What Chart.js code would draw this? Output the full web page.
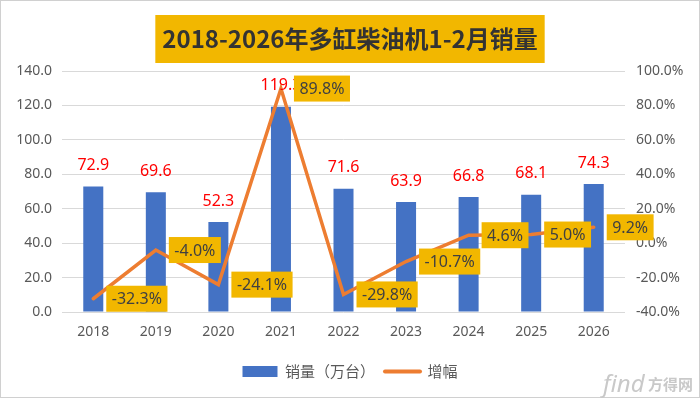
<!DOCTYPE html>
<html>
<head>
<meta charset="utf-8">
<script src="https://cdn.jsdelivr.net/npm/chart.js@4"></script>
<style>
  html, body { margin: 0; padding: 0; background: #ffffff; }
  #wrap { width: 700px; height: 398px; position: relative; }
</style>
</head>
<body>
<div id="wrap"><canvas id="graficoVendas"></canvas></div>
<script>
// dados
var anos = ['2018', '2019', '2020', '2021', '2022', '2023', '2024', '2025', '2026'];
var vendas = [72.9, 69.6, 52.3, 119.3, 71.6, 63.9, 66.8, 68.1, 74.3];
var crescimento = [-32.3, -4.0, -24.1, 89.8, -29.8, -10.7, 4.6, 5.0, 9.2];
var ticksEsquerda = [0, 20, 40, 60, 80, 100, 120, 140];
var ticksDireita = [-40, -20, 0, 20, 40, 60, 80, 100];

var azul = '#4472C4';
var laranja = '#ED7D31';
var dourado = '#F2B700';
var cinzaTexto = '#595959';
var fonteNum = '"Noto Sans", "Noto Sans CJK SC", sans-serif';
var fonteCjk = '"Noto Sans CJK SC", "Noto Sans", sans-serif';

var fundoTitulo = {
    id: 'fundoTitulo',
    beforeDraw: function(chart) {
        var ctx = chart.ctx;
        ctx.save();
        ctx.fillStyle = '#ffffff';
        ctx.fillRect(0, 0, chart.width, chart.height);
        ctx.font = 'bold 24px ' + fonteCjk;
        var w = ctx.measureText(chart.options.plugins.title.text).width + 14;
        ctx.fillStyle = dourado;
        ctx.fillRect(chart.width / 2 - w / 2, 15, w, 48);
        ctx.restore();
    },
    afterDraw: function(chart) {
        var ctx = chart.ctx;
        ctx.save();
        ctx.strokeStyle = '#D0D0D0';
        ctx.lineWidth = 1;
        ctx.strokeRect(0.5, 0.5, chart.width - 1, chart.height - 1);
        // marca d'agua
        ctx.fillStyle = '#C9C9C9';
        ctx.textBaseline = 'alphabetic';
        ctx.font = 'italic 24px ' + fonteNum;
        ctx.fillText('find', 603, 392);
        ctx.font = 'bold 15px ' + fonteCjk;
        ctx.fillText('方得网', 648, 390);
        ctx.restore();
    }
};

var rotulos = {
    id: 'rotulos',
    afterDatasetsDraw: function(chart) {
        var ctx = chart.ctx;
        var metaBarras = chart.getDatasetMeta(0);
        var metaLinha = chart.getDatasetMeta(1);
        ctx.save();
        ctx.font = '16px ' + fonteNum;
        ctx.fillStyle = '#FF0000';
        ctx.textAlign = 'center';
        ctx.textBaseline = 'middle';
        metaBarras.data.forEach(function(barra, i) {
            ctx.fillText(vendas[i].toFixed(1), barra.x, barra.y - 21);
        });
        ctx.font = '16px ' + fonteNum;
        ctx.textAlign = 'left';
        metaLinha.data.forEach(function(ponto, i) {
            var texto = crescimento[i].toFixed(1) + '%';
            var w = ctx.measureText(texto).width + 11;
            var h = 26;
            var x0 = ponto.x + 13;
            ctx.fillStyle = dourado;
            ctx.fillRect(x0, ponto.y - h / 2, w, h);
            ctx.fillStyle = '#404040';
            ctx.fillText(texto, x0 + 5.5, ponto.y + 1);
        });
        ctx.restore();
    }
};

var data = {
    labels: anos,
    datasets: [
        {
            type: 'bar',
            label: '销量（万台）',
            data: vendas,
            backgroundColor: azul,
            barPercentage: 0.32,
            categoryPercentage: 1.0,
            yAxisID: 'y',
            order: 2
        },
        {
            type: 'line',
            label: '增幅',
            data: crescimento,
            borderColor: laranja,
            backgroundColor: laranja,
            borderWidth: 3.5,
            pointRadius: 0,
            tension: 0,
            borderCapStyle: 'round',
            borderJoinStyle: 'miter',
            yAxisID: 'y1',
            order: 1
        }]
};

var options = {
    responsive: false,
    animation: false,
    layout: { padding: { top: 0, bottom: 9, left: 0, right: 0 } },
    plugins: {
        title: {
            display: true,
            text: '2018-2026年多缸柴油机1-2月销量',
            color: '#333333',
            font: { family: fonteCjk, size: 24, weight: 'bold', lineHeight: 1.2 },
            padding: { top: 24.6, bottom: 17.6 }
        },
        legend: {
            position: 'bottom',
            labels: {
                color: cinzaTexto,
                font: { family: fonteCjk, size: 15 },
                usePointStyle: true,
                pointStyleWidth: 35,
                boxHeight: 11,
                padding: 10,
                generateLabels: function(chart) {
                    var itens = Chart.defaults.plugins.legend.labels.generateLabels(chart);
                    itens.sort(function(a, b) { return a.datasetIndex - b.datasetIndex; });
                    itens.forEach(function(item) {
                        if (item.datasetIndex === 0) {
                            item.pointStyle = 'rect';
                            item.lineWidth = 0;
                            item.fillStyle = azul;
                        } else {
                            item.pointStyle = 'line';
                            item.lineWidth = 4;
                            item.lineCap = 'round';
                            item.strokeStyle = laranja;
                        }
                    });
                    return itens;
                }
            }
        },
        tooltip: { enabled: false }
    },
    scales: {
        x: {
            grid: { display: false, drawTicks: false },
            border: { display: false },
            ticks: { color: cinzaTexto, font: { family: fonteNum, size: 14 }, padding: 12 },
            afterFit: function(s) { s.height = 42; }
        },
        y: {
            position: 'left',
            min: 0,
            max: 140,
            afterBuildTicks: function(s) { s.ticks = ticksEsquerda.map(function(v) { return { value: v }; }); },
            grid: { color: '#D9D9D9', lineWidth: 1, drawTicks: false },
            border: { display: false },
            ticks: {
                color: cinzaTexto,
                font: { family: fonteNum, size: 14 },
                padding: 10,
                callback: function(v) { return v.toFixed(1); }
            },
            afterFit: function(s) { s.width = 62; }
        },
        y1: {
            position: 'right',
            min: -40,
            max: 100,
            afterBuildTicks: function(s) { s.ticks = ticksDireita.map(function(v) { return { value: v }; }); },
            grid: { display: false, drawTicks: false },
            border: { display: false },
            ticks: {
                color: cinzaTexto,
                font: { family: fonteNum, size: 14 },
                padding: 11,
                callback: function(v) { return v.toFixed(1) + '%'; }
            },
            afterFit: function(s) { s.width = 75; }
        }
    }
};

var ctx = document.getElementById('graficoVendas');
ctx.width = 700;
ctx.height = 398;
var graficoVendas = new Chart(ctx, {
    data: data,
    options: options,
    plugins: [fundoTitulo, rotulos]
});
</script>
</body>
</html>
